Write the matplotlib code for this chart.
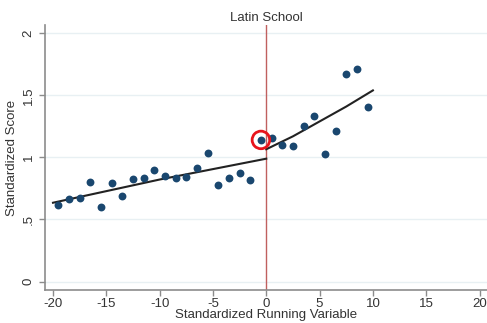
import numpy as np
import matplotlib; matplotlib.use("Agg")
import matplotlib.pyplot as plt

# binned means (x = bin centres of the standardized running variable)
left_x = [-19.5, -18.5, -17.5, -16.5, -15.5, -14.5, -13.5, -12.5, -11.5, -10.5,
          -9.5, -8.5, -7.5, -6.5, -5.5, -4.5, -3.5, -2.5, -1.5, -0.5]
left_y = [0.618, 0.663, 0.671, 0.805, 0.599, 0.797, 0.692, 0.827, 0.835, 0.899,
          0.851, 0.832, 0.843, 0.913, 1.036, 0.776, 0.835, 0.875, 0.819, 1.141]
right_x = [0.5, 1.5, 2.5, 3.5, 4.5, 5.5, 6.5, 7.5, 8.5, 9.5]
right_y = [1.160, 1.100, 1.095, 1.256, 1.334, 1.026, 1.216, 1.670, 1.712, 1.409]

# fitted lines
fit_left_x = [-20, -10, 0]
fit_left_y = [0.635, 0.822, 0.990]
fit_right_x = [0, 2.5, 5, 7.5, 10]
fit_right_y = [1.066, 1.170, 1.290, 1.410, 1.540]

# highlighted bin
hl_x, hl_y = -0.5, 1.141

xticks = [-20, -15, -10, -5, 0, 5, 10, 15, 20]
yticks = [0, 0.5, 1, 1.5, 2]
ytick_labels = ["0", ".5", "1", "1.5", "2"]

plt.rcParams["font.family"] = ["Liberation Sans", "DejaVu Sans"]
fig = plt.figure(figsize=(4.87, 3.23), dpi=100)
ax = fig.add_axes([45 / 487, 33 / 323, 442 / 487, 265 / 323])

navy = "#1a476f"; grey = "#8c8c8c"
for yv in yticks:
    ax.axhline(yv, color="#e8f0f3", lw=1.0, zorder=0)
ax.axvline(0, color="#c0605f", lw=1.0, zorder=1)
ax.scatter(left_x + right_x, left_y + right_y, s=32, color=navy, zorder=3, linewidths=0)
ax.plot(fit_left_x, fit_left_y, color="#222222", lw=1.5, zorder=2)
ax.plot(fit_right_x, fit_right_y, color="#222222", lw=1.5, zorder=2)
ax.scatter([hl_x], [hl_y], s=160, facecolor="none", edgecolor="#e8141c", linewidths=2.0, zorder=4)

ax.set_xlim(-20.75, 20.7)
ax.set_ylim(-0.068, 2.067)
ax.set_xticks(xticks)
ax.set_xticklabels([str(t) for t in xticks])
ax.set_yticks(yticks)
ax.set_yticklabels(ytick_labels, rotation=90, va="center")
for s in ("top", "right"):
    ax.spines[s].set_visible(False)
for s in ("left", "bottom"):
    ax.spines[s].set_color(grey); ax.spines[s].set_linewidth(1.2)
ax.tick_params(colors=grey, labelcolor="#333333", labelsize=9.5, length=4, width=1.0)
ax.tick_params(axis="x", pad=2)
ax.set_xlabel("Standardized Running Variable", fontsize=9.5, color="#333333", labelpad=-1)
ax.set_ylabel("Standardized Score", fontsize=9.5, color="#333333", labelpad=3)
ax.set_title("Latin School", fontsize=9.5, color="#333333", pad=3)

fig.savefig("out.png", dpi=100)
